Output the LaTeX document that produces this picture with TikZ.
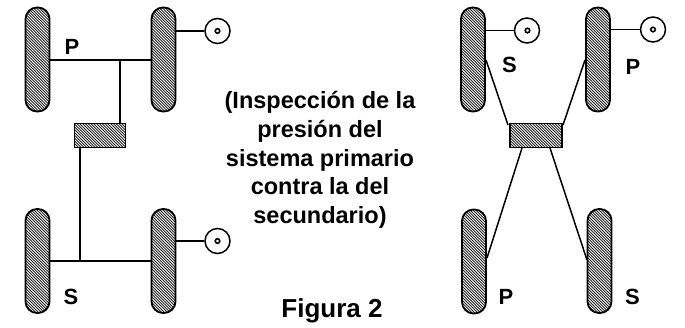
\documentclass[tikz,border=0pt]{standalone}
\usepackage{fontspec}
\setmainfont{Liberation Sans}
\tikzset{
  hatchfill/.style={path picture={
    \foreach \k in {-140,-137.2,...,140}{
      \draw[line width=0.9pt,black!85] ([xshift=\k pt,yshift=70pt]path picture bounding box.center) -- ++(70pt,-70pt) -- ++(70pt,-70pt);
    }}},
  wheel/.style={draw,line width=1.8pt,rounded corners=11.5pt,minimum width=24pt,minimum height=104pt,inner sep=0pt,hatchfill},
  valve/.style={draw,line width=1.8pt,minimum width=51pt,minimum height=24pt,inner sep=0pt,hatchfill},
  hub/.style={draw,circle,line width=1.5pt,minimum size=25pt,inner sep=0pt},
  dot/.style={draw,circle,line width=1.6pt,minimum size=4.5pt,inner sep=0pt},
  pipe/.style={line width=1.5pt},
  lbl/.style={font=\fontsize{22}{24}\selectfont\bfseries,inner sep=0pt},
  note/.style={font=\fontsize{23.5}{28.7}\selectfont\bfseries,align=center,inner sep=0pt}
}
\begin{document}
\begin{tikzpicture}[x=1pt,y=-1pt]
\useasboundingbox (0,0) rectangle (685,328);
% left circuit
\node[wheel] (w1) at (37.5,59.5) {};
\node[wheel] (w2) at (163.5,59.5) {};
\node[wheel] (w3) at (37.5,261) {};
\node[wheel] (w4) at (163.5,261) {};
\node[valve] (v1) at (100,135.5) {};
\node[hub] (h1) at (217.5,31) {};
\node[dot] (d1) at (217.5,31) {};
\node[hub] (h2) at (217.5,241) {};
\node[dot] (d2) at (217.5,241) {};
\coordinate (j1) at (120,60);
\coordinate (j2) at (80,261);
\coordinate (wa) at (176,31);
\coordinate (wb) at (176,241);
\draw[pipe] (50,60) -- (j1) -- (151,60);
\draw[pipe] (j1) -- (120,123);
\draw[pipe] (80,148) -- (j2);
\draw[pipe] (50,261) -- (j2) -- (151,261);
\draw[pipe] (wa) -- (h1);
\draw[pipe] (wb) -- (h2);
% right circuit
\node[wheel] (w5) at (473,59.5) {};
\node[wheel] (w6) at (598,59.5) {};
\node[wheel] (w7) at (474,261.5) {};
\node[wheel] (w8) at (599.5,261) {};
\node[valve,minimum width=52pt] (v2) at (536,135.5) {};
\node[hub] (h3) at (527,30.5) {};
\node[dot] (d3) at (527.5,30.5) {};
\node[hub] (h4) at (653,29.5) {};
\node[dot] (d4) at (653,29.5) {};
\coordinate (wc) at (485.5,30.5);
\coordinate (wd) at (610.5,29.5);
\draw[pipe] (wc) -- (h3);
\draw[pipe] (wd) -- (h4);
\draw[pipe] (486,60) -- (508,125);
\draw[pipe] (585,60) -- (563,125);
\draw[pipe] (522,148) -- (487,258);
\draw[pipe] (550,148) -- (587,260);
% labels
\node[lbl] (p1) at (72,47) {P};
\node[lbl] (s1) at (71,296.5) {S};
\node[lbl] (s2) at (509.5,65) {S};
\node[lbl] (p2) at (633,66.5) {P};
\node[lbl] (p3) at (506,296.5) {P};
\node[lbl] (s3) at (632.5,296.5) {S};
\node[note] (t) at (320,160) {(Inspección de la\\presión del\\sistema primario\\contra la del\\secundario)};
\node[font=\fontsize{26}{28}\selectfont\bfseries,inner sep=0pt,anchor=base] (f) at (332,318) {Figura 2};
\end{tikzpicture}
\end{document}
